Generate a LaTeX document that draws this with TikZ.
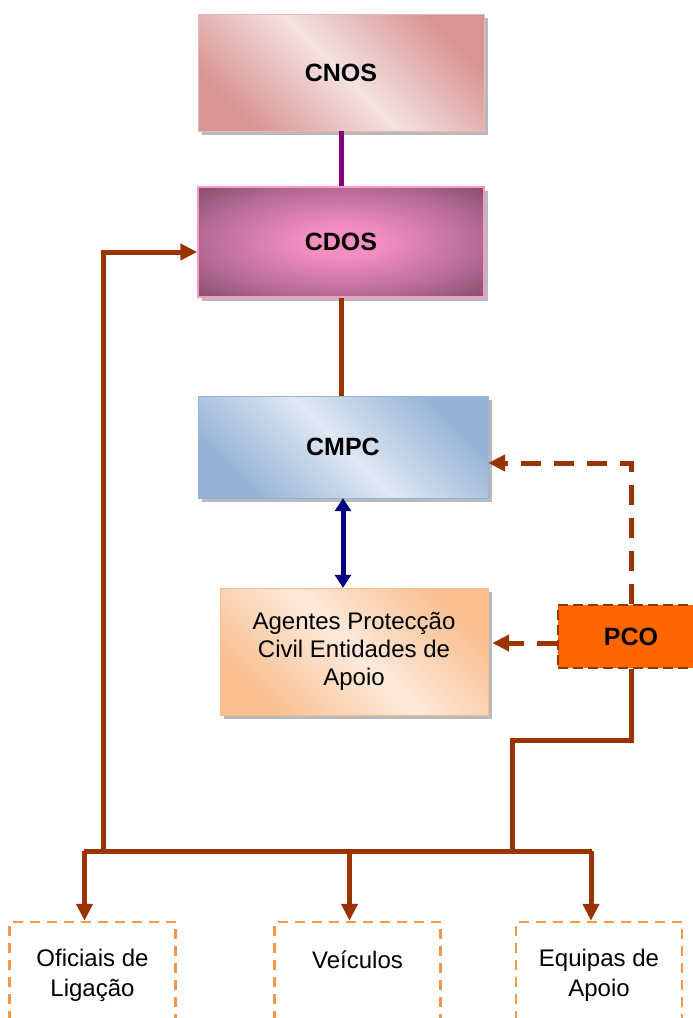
\documentclass[tikz,border=0pt]{standalone}
\usepackage{fontspec}
\setmainfont{Liberation Sans}
\usepackage{tikz}
\usetikzlibrary{shapes,arrows,positioning,calc,shadows,arrows.meta}

\definecolor{cnoslight}{HTML}{F4E2E1}
\definecolor{cnosdark}{HTML}{D99594}
\definecolor{cnosline}{HTML}{E6B9B8}
\definecolor{cdosin}{HTML}{F28EC2}
\definecolor{cdosout}{HTML}{7A4866}
\definecolor{cdosline}{HTML}{FF99CC}
\definecolor{cmpclight}{HTML}{DFE8F3}
\definecolor{cmpcdark}{HTML}{95B3D7}
\definecolor{agelight}{HTML}{FDEADC}
\definecolor{agedark}{HTML}{F9BF90}
\definecolor{pcofill}{HTML}{FF6600}
\definecolor{brownline}{HTML}{993300}
\definecolor{boxdash}{HTML}{F79646}
\definecolor{purpleline}{HTML}{800080}
\definecolor{navyline}{HTML}{000080}

\pgfdeclareradialshading{cdosglow}{\pgfpoint{0bp}{0bp}}{color(0bp)=(cdosin); color(7bp)=(cdosin);
    color(24bp)=(cdosin!50!cdosout); color(38bp)=(cdosout); color(75bp)=(cdosout)}

\begin{document}
\begin{tikzpicture}[x=1pt, y=-1pt,
    boss/.style={draw, rectangle, font=\fontsize{25}{30}\selectfont\bfseries,
        general shadow={shadow xshift=4pt, shadow yshift=-4pt, fill=gray!55}},
    soft/.style={draw, rectangle, align=center, font=\fontsize{24}{28}\selectfont,
        general shadow={shadow xshift=4pt, shadow yshift=-4pt, fill=gray!55}},
    meios/.style={draw=boxdash, line width=2.5pt, dash pattern=on 10pt off 7pt, rectangle,
        align=center, minimum width=166, minimum height=106, font=\fontsize{24}{30}\selectfont},
    link/.style={draw=brownline, line width=5pt},
    dashlink/.style={link, dash pattern=on 20pt off 13pt, -{Triangle[length=17pt,width=16pt]}},
    arr/.style={link, -{Triangle[length=17pt,width=16pt]}}]
    \useasboundingbox (0,0) rectangle (693,1018);

    % Comando
    \node[boss, draw=cnosline, left color=cnosdark, right color=cnosdark, middle color=cnoslight,
        shading angle=-45, minimum width=286, minimum height=117] (cnos) at (341,72.5) {CNOS};
    \node[boss, draw=cdosline, line width=1.5pt, shading=cdosglow,
        minimum width=286, minimum height=110] (cdos) at (341,242) {CDOS};
    \node[boss, draw=cmpcdark, left color=cmpcdark, right color=cmpcdark, middle color=cmpclight,
        shading angle=-45, minimum width=290, minimum height=102] (cmpc) at (343,447) {CMPC};
    \node[soft, draw=agedark, left color=agedark, right color=agedark, middle color=agelight,
        shading angle=-45, minimum width=268, minimum height=127] (agentes) at (354,651.5)
        {Agentes Protecção\\Civil Entidades de\\Apoio};
    \node[draw=brownline, fill=pcofill, line width=2pt, dash pattern=on 10pt off 5pt,
        font=\fontsize{25}{30}\selectfont\bfseries, minimum width=146, minimum height=63]
        (pco) at (631,636.5) {PCO};

    % Meios
    \node[meios] (ofic) at (92.5,975) {Oficiais de\\Ligação};
    \node[meios, text depth=30pt] (veic) at (357.5,975) {Veículos};
    \node[meios] (equip) at (599,975) {Equipas de\\Apoio};

    % Ligacoes
    \draw[draw=purpleline, line width=5pt] (cnos.south) -- (cdos.north);
    \draw[link] (cdos.south) -- (cdos.south |- cmpc.north);
    \draw[draw=navyline, line width=5pt, {Triangle[length=13pt,width=16pt]}-{Triangle[length=13pt,width=16pt]}]
        (cmpc.south) -- (cmpc.south |- agentes.north);
    \draw[dashlink] (pco.north) |- ([yshift=-16pt]cmpc.east);
    \draw[dashlink] ([yshift=-6.5pt]pco.west) -- ([xshift=4pt,yshift=8.5pt]agentes.east);

    % Barramento
    \coordinate (busL) at (84,851);
    \coordinate (busR) at (592,851);
    \coordinate (loopfoot) at (103,851);
    \coordinate (pcofoot) at (512,851);
    \draw[link] (busL) -- (busR);
    \draw[arr] (loopfoot) |- ([yshift=-10pt]cdos.west);
    \draw[link] (pco.south) -- ++(0,71) -| (pcofoot);
    \foreach \b in {ofic,veic,equip} {
        \coordinate (\b top) at ([xshift=-8pt]\b.north);
        \draw[arr] (\b top |- busL) -- (\b top);
    }
\end{tikzpicture}
\end{document}
